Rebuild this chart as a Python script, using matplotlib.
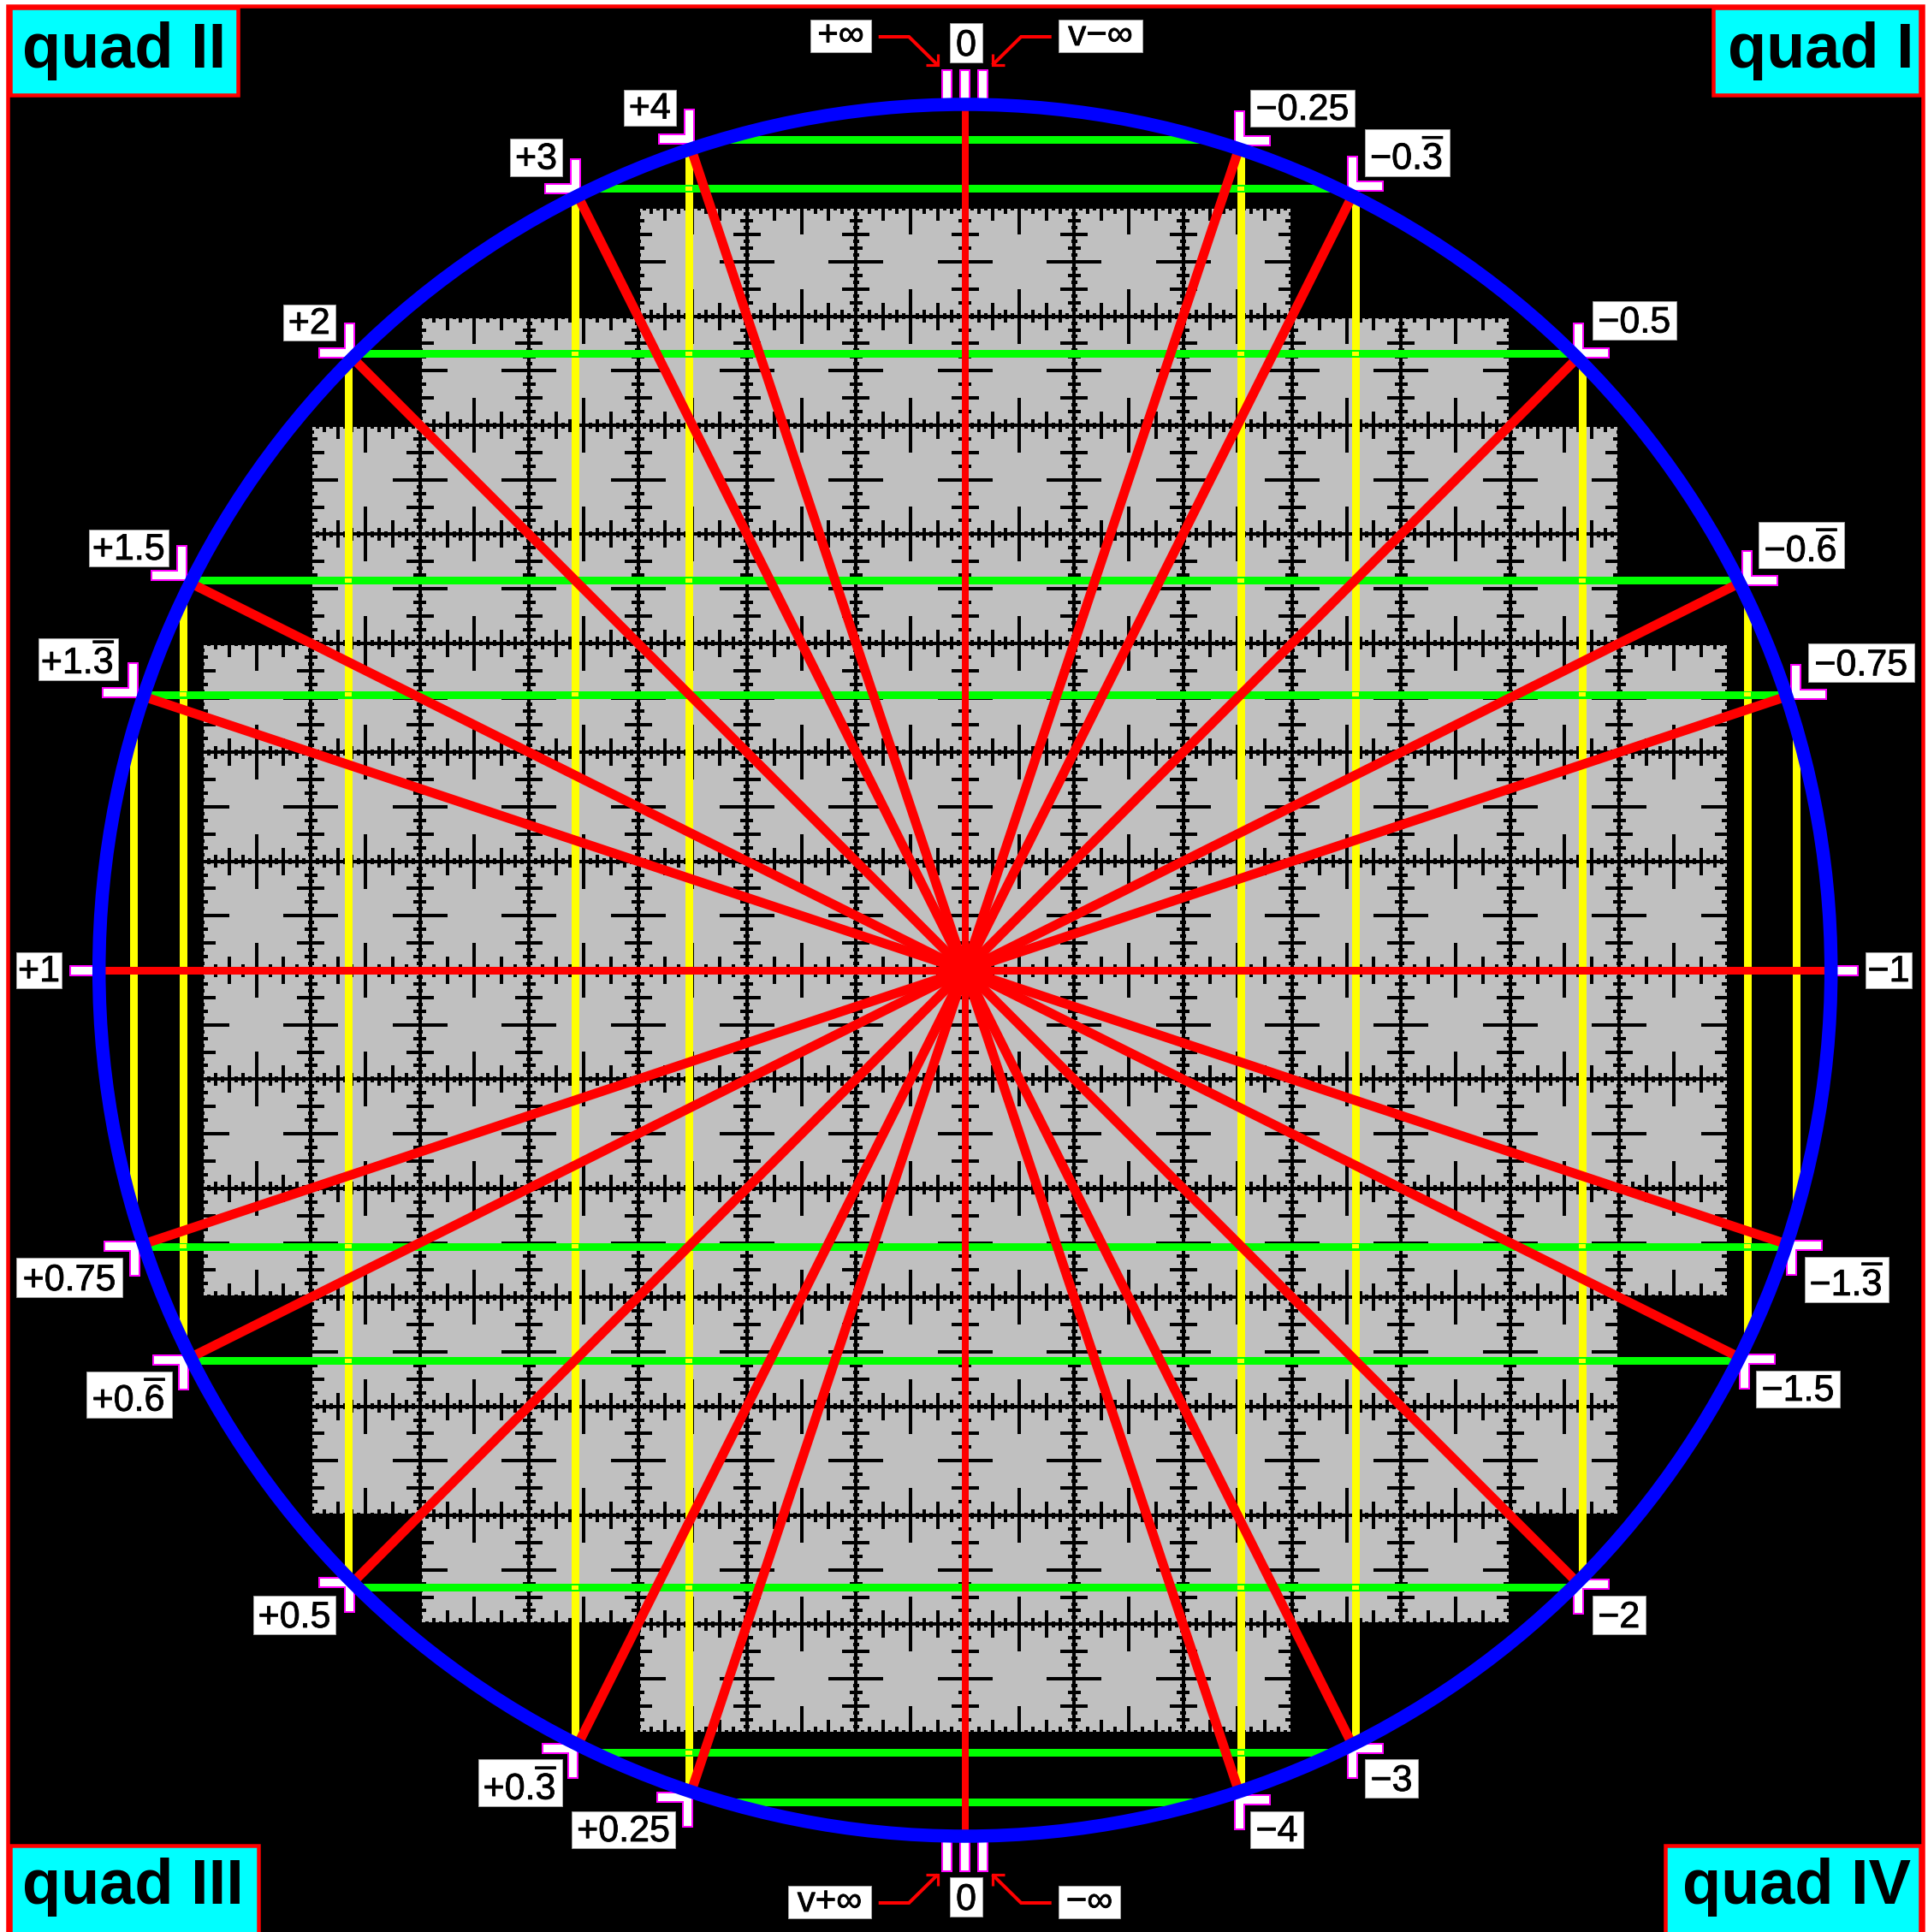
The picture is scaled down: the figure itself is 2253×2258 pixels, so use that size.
import math

import matplotlib

matplotlib.use("Agg")
import matplotlib.pyplot as plt
import matplotlib.patheffects as pe
from matplotlib.collections import LineCollection
from matplotlib.patches import Circle, Polygon, Rectangle

plt.rcParams["font.family"] = ["Liberation Sans", "DejaVu Sans"]
plt.rcParams["mathtext.fontset"] = "custom"
plt.rcParams["mathtext.rm"] = "Liberation Sans"
plt.rcParams["mathtext.default"] = "regular"

# rays: label, run and rise of the direction from the centre
LEFT_LABELS = ["+4", "+3", "+2", "+1.5", "+1.$\\overline{3}$", "+1",
               "+0.75", "+0.$\\overline{6}$", "+0.5", "+0.$\\overline{3}$", "+0.25"]
LEFT_RUN = [-1, -1, -1, -2, -3, -1, -3, -2, -1, -1, -1]
LEFT_RISE = [3, 2, 1, 1, 1, 0, -1, -1, -1, -2, -3]

RIGHT_LABELS = ["\u22120.25", "\u22120.$\\overline{3}$", "\u22120.5", "\u22120.$\\overline{6}$", "\u22120.75", "\u22121",
                "\u22121.$\\overline{3}$", "\u22121.5", "\u22122", "\u22123", "\u22124"]
RIGHT_RUN = [1, 1, 1, 2, 3, 1, 3, 2, 1, 1, 1]
RIGHT_RISE = [3, 2, 1, 1, 1, 0, -1, -1, -1, -2, -3]

# distance of the green and yellow chords from the centre
CHORD_OFFSETS = [322.5, 456, 721, 914, 971.5]

# half width and half height of the grey blocks, in grid cells
BLOCK_HALF_W = [3, 5, 6, 7]
BLOCK_HALF_H = [7, 6, 5, 3]

# tick half length for each subdivision of a cell (16ths)
TICK_HALF = {1: 3.5, 2: 7.5, 4: 16, 8: 32}

QUAD_LABELS = ["quad II", "quad I", "quad III", "quad IV"]
INF_TOP = ["+\u221e", "0", "v\u2212\u221e"]
INF_BOTTOM = ["v+\u221e", "0", "\u2212\u221e"]

# layout, in image pixels
W, H = 2253, 2258
CX, CY = 1127.7, 1134
R = 1012
CELL = 127.4
PX = 72 / 100

# label boxes x0, y0, x1, y1
LEFT_BOX = [(728.5, 105, 790, 146.6), (596, 162, 657, 205.5), (330.5, 356, 392, 398),
            (103.5, 619, 197, 662), (44.5, 746, 138, 795), (19, 1113, 72, 1155),
            (19, 1470, 143, 1516), (101, 1603, 201, 1657), (296, 1865, 392, 1910),
            (559, 2056, 657, 2111), (668, 2116.6, 789, 2160)]
RIGHT_BOX = [(1461, 105, 1583, 148), (1595, 151, 1694, 205.5), (1861, 352, 1958.5, 396.6),
             (2055, 610, 2155, 664), (2112.7, 751.7, 2236.7, 797.3), (2180, 1113, 2234, 1155),
             (2109, 1468.5, 2207, 1522), (2052, 1602, 2150, 1645), (1861, 1865, 1922.5, 1910),
             (1595, 2056, 1657, 2101), (1461, 2116.6, 1523, 2160)]
INF_TOP_BOX = [(947, 23, 1018, 61), (1110, 27, 1148, 73), (1237, 23, 1335, 61)]
INF_BOTTOM_BOX = [(921, 2204, 1018, 2242), (1110, 2194, 1148, 2240), (1237, 2204, 1309, 2242)]

# bracket corners, the point of each L (the axis rays have bars instead)
LEFT_CORNER = [(810.7, 168.3), (677.7, 226), (414, 418), (218.4, 678), (161, 815), None,
               (163, 1451), (220, 1584), (414, 1843.6), (675.4, 2037.6), (809, 2095)]
RIGHT_CORNER = [(1442.6, 169.6), (1575, 222.7), (1839, 418), (2036, 684), (2093, 817), None,
                (2088, 1450), (2033, 1583), (1839, 1846), (1575, 2038), (1442.6, 2098)]

QUAD_BOX = [(11.5, 9, 278, 110.7), (2002, 9, 2244, 110.7), (11.5, 2157, 302, 2262), (1946, 2157, 2244, 2262)]
QUAD_TEXT = [(26, 79), (2019, 79), (26, 2224.7), (1966, 2224.7)]


def ray_point(run, rise, radius=R):
    n = math.hypot(run, rise)
    return CX + radius * run / n, CY - radius * rise / n


def ruler_segments(half_w, half_h):
    segs = set()
    for k in range(-half_h, half_h + 1):
        y = CY + k * CELL
        segs.add(((CX - half_w * CELL, y), (CX + half_w * CELL, y)))
        for i in range(-half_w * 16, half_w * 16 + 1):
            if i % 16 == 0:
                continue
            t = TICK_HALF[abs(i) & -abs(i)]
            x = CX + i * CELL / 16
            segs.add(((x, y - t), (x, y + t)))
    for k in range(-half_w, half_w + 1):
        x = CX + k * CELL
        segs.add(((x, CY - half_h * CELL), (x, CY + half_h * CELL)))
        for i in range(-half_h * 16, half_h * 16 + 1):
            if i % 16 == 0:
                continue
            t = TICK_HALF[abs(i) & -abs(i)]
            y = CY + i * CELL / 16
            segs.add(((x - t, y), (x + t, y)))
    return segs


def bracket(ax, corner, sx, sy):
    # sx: arm goes right (+1) or left (-1), sy: arm goes down (+1) or up (-1)
    cx, cy = corner
    w, h, t = 41, 40, 11
    pts = [(cx, cy), (cx + sx * w, cy), (cx + sx * w, cy + sy * t),
           (cx + sx * t, cy + sy * t), (cx + sx * t, cy + sy * h), (cx, cy + sy * h)]
    ax.add_patch(Polygon(pts, closed=True, fc="white", ec="#ff00ff", lw=2 * PX, zorder=5))


def label(ax, box, s, px=43):
    x0, y0, x1, y1 = box
    ax.add_patch(Rectangle((x0, y0), x1 - x0, y1 - y0, fc="white", ec="#a0a0a0", lw=1 * PX, zorder=9))
    t = ax.text((x0 + x1) / 2, y1 - 8, s, fontsize=px * PX, color="black", ha="center", va="baseline", zorder=9.5)
    t.set_path_effects([pe.withStroke(linewidth=0.8 * PX, foreground="black")])


def arrow(ax, sx, y_tail, y_head):
    xt, xe, xh = CX + sx * 101, CX + sx * 65.5, CX + sx * 32
    ys = 1 if y_tail > y_head else -1
    lw = 4 * PX
    ax.plot([xt, xe, xh], [y_tail, y_tail, y_head], color="red", lw=lw, zorder=8,
            solid_joinstyle="miter", solid_capstyle="butt")
    ax.plot([xh + sx * 14, xh, xh], [y_head, y_head, y_head + ys * 13], color="red", lw=lw * 0.8, zorder=8,
            solid_joinstyle="miter", solid_capstyle="butt")


fig = plt.figure(figsize=(W / 100, H / 100), dpi=100, facecolor="white")
ax = fig.add_axes([0, 0, 1, 1])
ax.set_xlim(0, W)
ax.set_ylim(H, 0)
ax.axis("off")

# frame and black ground
ax.add_patch(Rectangle((9.3, 7), 2246.5 - 9.3, H + 10, fc="black", ec="red", lw=4.5 * PX, zorder=0))

# grey blocks with rulers
all_segs = set()
for hw, hh in zip(BLOCK_HALF_W, BLOCK_HALF_H):
    ax.add_patch(Rectangle((CX - hw * CELL, CY - hh * CELL), 2 * hw * CELL, 2 * hh * CELL,
                           fc="#c0c0c0", ec="none", zorder=1))
    all_segs |= ruler_segments(hw, hh)
ax.add_collection(LineCollection(sorted(all_segs), colors="black", linewidths=4 * PX,
                                 capstyle="butt", zorder=2))

# chords
for off in CHORD_OFFSETS:
    half = math.sqrt(R ** 2 - off ** 2)
    for sign in (-1, 1):
        ax.plot([CX + sign * off] * 2, [CY - half, CY + half], color="#ffff00", lw=9 * PX,
                solid_capstyle="butt", zorder=3)
        ax.plot([CX - half, CX + half], [CY + sign * off] * 2, color="#00ff00", lw=9 * PX,
                solid_capstyle="butt", zorder=4)
for ox in CHORD_OFFSETS:
    for oy in CHORD_OFFSETS:
        if ox ** 2 + oy ** 2 < (R - 8) ** 2:
            for sx in (-1, 1):
                for sy in (-1, 1):
                    ax.add_patch(Rectangle((CX + sx * ox - 4, CY + sy * oy - 2.5), 8, 5,
                                           fc="#ffff00", ec="none", zorder=4.5))

# rays
for run, rise in zip(LEFT_RUN + RIGHT_RUN, LEFT_RISE + RIGHT_RISE):
    x, y = ray_point(run, rise)
    lw = 9 if rise == 0 else 11
    ax.plot([CX, x], [CY, y], color="red", lw=lw * PX, solid_capstyle="butt", zorder=6)
ax.plot([CX, CX], [CY - R, CY + R], color="red", lw=8 * PX, solid_capstyle="butt", zorder=6)
ax.add_patch(Circle((CX, CY), 29, fc="red", ec="none", zorder=6))

# brackets, arms pointing away from the circle
for corner, rise in zip(LEFT_CORNER, LEFT_RISE):
    if corner:
        bracket(ax, corner, -1, -1 if rise > 0 else 1)
for corner, rise in zip(RIGHT_CORNER, RIGHT_RISE):
    if corner:
        bracket(ax, corner, 1, -1 if rise > 0 else 1)

# bars on the horizontal and vertical axis ends
bar = dict(fc="white", ec="#ff00ff", lw=2 * PX, zorder=5)
ax.add_patch(Rectangle((CX - R - 34, CY - 5.5), 34, 11, **bar))
ax.add_patch(Rectangle((CX + R, CY - 5.5), 31, 11, **bar))
for dx in (-21, 0, 21):
    ax.add_patch(Rectangle((CX + dx - 5.5, CY - R - 40), 11, 40, **bar))
    ax.add_patch(Rectangle((CX + dx - 5.5, CY + R), 11, 41, **bar))

ax.add_patch(Circle((CX, CY), R, fc="none", ec="#0000ff", lw=15.5 * PX, zorder=7))

# labels
for s, box in zip(LEFT_LABELS + RIGHT_LABELS, LEFT_BOX + RIGHT_BOX):
    label(ax, box, s)
for s, box in zip(INF_TOP + INF_BOTTOM, INF_TOP_BOX + INF_BOTTOM_BOX):
    label(ax, box, s, px=43 if s == "0" else 42)

for sx in (-1, 1):
    arrow(ax, sx, 43, 76)
    arrow(ax, sx, 2224, 2191)

# quadrant tags
for s, (x0, y0, x1, y1), (tx, ty) in zip(QUAD_LABELS, QUAD_BOX, QUAD_TEXT):
    ax.add_patch(Rectangle((x0, y0), x1 - x0, y1 - y0, fc="#00ffff", ec="red", lw=4.5 * PX, zorder=10))
    ax.text(tx, ty, s, fontsize=74 * PX, fontweight="bold", color="black", ha="left", va="baseline", zorder=11)

fig.savefig("out.png", dpi=100, facecolor="white")
